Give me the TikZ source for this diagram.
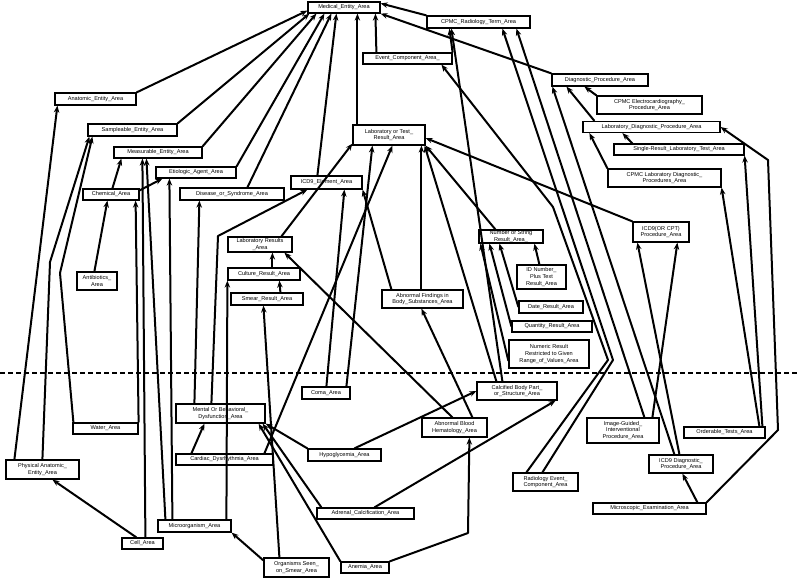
\documentclass[tikz,border=0pt]{standalone}
\usepackage{fontspec}
\setmainfont{Liberation Sans}
\usetikzlibrary{arrows.meta}

\begin{document}
\begin{tikzpicture}[x=1pt, y=-1pt,
  area/.style={draw, line width=1.2pt, inner sep=0pt, align=center,
    font=\fontsize{5.6}{6.6}\selectfont},
  isa/.style={-{Stealth[length=7pt,width=5.5pt]}, line width=2pt, line join=round}]
  \useasboundingbox (0,0) rectangle (797,579);

  % boxes: name/x/y/width/height/label
  \foreach \n/\x/\y/\w/\h/\t in {
    med/344/7.5/72/11/{Medical\_Entity\_Area},
    radterm/478.5/22/103/12/{CPMC\_Radiology\_Term\_Area},
    evcomp/407.5/58.5/89/11/{Event\_Component\_Area\_},
    diagproc/600/80/96/12/{Diagnostic\_Procedure\_Area},
    anat/95.5/99/81/12/{Anatomic\_Entity\_Area},
    ecg/649.5/105/105/18/{CPMC Electrocardiography\_\\Procedure\_Area},
    labdiag/651.5/127/137/11/{Laboratory\_Diagnostic\_Procedure\_Area},
    samp/132.5/130/89/12/{Sampleable\_Entity\_Area},
    labtest/389/135/72/20/{Laboratory or Test\_\\Result\_Area},
    single/679/149.5/130/11/{Single-Result\_Laboratory\_Test\_Area},
    meas/158/152.5/88/11/{Measurable\_Entity\_Area},
    etio/196/172.5/80/11/{Etiologic\_Agent\_Area},
    cpmclab/664.5/178/113/18/{CPMC Laboratory Diagnostic\_\\Procedures\_Area},
    icdel/326.5/182.5/71/13/{ICD9\_Element\_Area},
    chem/111/194.5/56/11/{Chemical\_Area},
    dis/232/194/104/12/{Disease\_or\_Syndrome\_Area},
    icdcpt/661/232/56/20/{ICD9(OR CPT)\\Procedure\_Area},
    numstr/511/236.5/64/13/{Number or String\\Result\_Area\_},
    labres/260/244.5/64/15/{Laboratory Results\\\_Area},
    idnum/541.5/277/49/24/{ID Number\_\\Plus Text\\Result\_Area},
    culture/264/274/72/12/{Culture\_Result\_Area},
    antib/97/281/40/18/{Antibiotics\_\\Area},
    abnfind/422.5/299/81/18/{Abnormal Findings in\\Body\_Substances\_Area},
    smear/267/299/72/12/{Smear\_Result\_Area},
    date/551/307/64/12/{Date\_Result\_Area},
    quant/552/326.5/80/11/{Quantity\_Result\_Area},
    numeric/549/354/80/28/{Numeric Result\\Restricted to Given\\Range\_of\_Values\_Area},
    calc/517/391/80/18/{Calcified Body Part\_\\or\_Structure\_Area},
    coma/326/393/48/12/{Coma\_Area},
    mental/220.5/413.5/89/19/{Mental Or Behavioral\_\\Dysfunction\_Area},
    abnblood/454.5/427.5/65/19/{Abnormal Blood\\Hematology\_Area},
    imgguid/623/430.5/72/25/{Image-Guided\_\\Interventional\\Procedure\_Area},
    water/105.5/428.5/65/11/{Water\_Area},
    orderable/724.5/432.5/81/11/{Orderable\_Tests\_Area},
    hypo/344.5/455/73/12/{Hypoglycemia\_Area},
    cardiac/224.5/459.5/97/11/{Cardiac\_Dysrhythmia\_Area},
    icddiag/681/464/64/18/{ICD9 Diagnostic\_\\Procedure\_Area},
    phys/42.5/469.5/73/19/{Physical Anatomic\_\\Entity\_Area},
    radevent/545.5/482/65/18/{Radiology Event\_\\Component\_Area},
    microexam/649.5/508.5/113/11/{Microscopic\_Examination\_Area},
    adrenal/365.5/513.5/97/11/{Adrenal\_Calcification\_Area},
    microorg/194.5/526/73/12/{Microorganism\_Area},
    cell/142.5/543.5/41/11/{Cell\_Area},
    organisms/296.5/567.5/65/19/{Organisms Seen\_\\on\_Smear\_Area},
    anemia/365/567.5/48/11/{Anemia\_Area}}
    \node[area, minimum width=\w pt, minimum height=\h pt] (\n) at (\x,\y) {\t};

  % dividing line
  \coordinate (cutL) at (0,373);
  \coordinate (cutR) at (797,373);
  \draw[line width=1.2pt, dash pattern=on 5pt off 3pt] (cutL) -- (cutR);

  % into Medical_Entity_Area
  \draw[isa] (anat.north east) -- ([yshift=3pt]med.south west);
  \draw[isa] (samp.north east) -- ([xshift=2pt]med.south west);
  \draw[isa] (meas.north east) -- ([xshift=9pt]med.south west);
  \draw[isa] (etio.north east) -- ([xshift=17pt]med.south west);
  \draw[isa] ([xshift=68pt]dis.north west) -- ([xshift=24pt]med.south west);
  \draw[isa] ([xshift=27pt]icdel.north west) -- ([xshift=29pt]med.south west);
  \draw[isa] ([xshift=5pt]labtest.north west) -- ([xshift=50pt]med.south west);
  \draw[isa] ([xshift=14pt]evcomp.north west) -- ([xshift=68pt]med.south west);
  \draw[isa] (radterm.north west) -- ([yshift=-2pt]med.north east);
  \draw[isa] (diagproc.north west) -- (med.south east);

  % radiology and procedures
  \draw[isa] (evcomp.north east) -- ([xshift=23pt]radterm.south west);
  \draw[isa] ([xshift=26pt]calc.north west) -- ([xshift=25pt]radterm.south west);
  \draw[isa] ([xshift=14pt]radevent.north west) -- (608,360) -- (553,207) -- ([xshift=79pt]evcomp.south west);
  \draw[isa] ([xshift=30pt]radevent.north west) -- (613,360) -- ([xshift=76pt]radterm.south west);
  \draw[isa] ([xshift=58pt]imgguid.north west) -- ([xshift=90pt]radterm.south west);
  \draw[isa] ([xshift=26pt]icddiag.north west) -- ([xshift=1pt]diagproc.south west);
  \draw[isa] ([xshift=12pt]labdiag.north west) -- ([xshift=15pt]diagproc.south west);
  \draw[isa] (ecg.north west) -- ([xshift=33pt]diagproc.south west);
  \draw[isa] ([xshift=19pt]single.north west) -- ([xshift=40pt]labdiag.south west);
  \draw[isa] (cpmclab.north west) -- ([xshift=7pt]labdiag.south west);
  \draw[isa] (microexam.north east) -- (778,430) -- (768,160) -- (labdiag.east);
  \draw[isa] ([xshift=105pt]microexam.north west) -- ([xshift=34pt]icddiag.south west);
  \draw[isa] ([xshift=79pt]orderable.north west) -- (single.south east);
  \draw[isa] ([xshift=76pt]orderable.north west) -- (cpmclab.south east);
  \draw[isa] ([xshift=66pt]imgguid.north west) -- ([xshift=45pt]icdcpt.south west);
  \draw[isa] ([xshift=31pt]icddiag.north west) -- ([xshift=5pt]icdcpt.south west);

  % into Laboratory or Test_Result_Area
  \draw[isa] (icdcpt.north west) -- ([yshift=-3pt]labtest.east);
  \draw[isa] ([xshift=17pt]numstr.north west) -- (labtest.south east);
  \draw[isa] ([xshift=20pt]calc.north west) -- ([xshift=-1pt]labtest.south east);
  \draw[isa] ([xshift=40pt]abnfind.north west) -- ([xshift=69pt]labtest.south west);
  \draw[isa] ([xshift=54pt]labres.north west) -- ([yshift=2pt]labtest.south west);
  \draw[isa] ([xshift=45pt]coma.north west) -- ([xshift=20pt]labtest.south west);
  \draw[isa] ([xshift=89pt]cardiac.north west) -- ([xshift=40pt]labtest.south west);

  % result kinds
  \draw[isa] ([xshift=23pt]idnum.north west) -- ([xshift=56pt]numstr.south west);
  \draw[isa] (date.west) -- ([xshift=21pt]numstr.south west);
  \draw[isa] (quant.west) -- ([xshift=11pt]numstr.south west);
  \draw[isa] ([yshift=-7pt]numeric.west) -- ([xshift=2pt]numstr.south west);

  % findings
  \draw[isa] ([xshift=51pt]abnblood.north west) -- ([xshift=40pt]abnfind.south west);
  \draw[isa] ([xshift=31pt]abnblood.north west) -- ([xshift=57pt]labres.south west);
  \draw[isa] (anemia.north east) -- (468,533) -- ([xshift=48pt]abnblood.south west);
  \draw[isa] ([xshift=47pt]hypo.north west) -- (calc.west);
  \draw[isa] ([xshift=58pt]adrenal.north west) -- ([xshift=-2pt]calc.south east);
  \draw[isa] (hypo.north west) -- (mental.south east);
  \draw[isa] ([xshift=5pt]adrenal.north west) -- ([xshift=-3pt]mental.south east);
  \draw[isa] (anemia.north west) -- ([xshift=-7pt]mental.south east);
  \draw[isa] ([xshift=16pt]cardiac.north west) -- ([xshift=29pt]mental.south west);
  \draw[isa] ([xshift=19pt]mental.north west) -- ([xshift=20pt]dis.south west);
  \draw[isa] ([xshift=36pt]mental.north west) -- (218,236) -- ([xshift=17pt]icdel.south west);
  \draw[isa] ([xshift=25pt]coma.north west) -- ([xshift=54pt]icdel.south west);
  \draw[isa] ([xshift=10pt]abnfind.north west) -- (icdel.south east);

  % results and organisms
  \draw[isa] ([xshift=45pt]culture.north west) -- ([xshift=45pt]labres.south west);
  \draw[isa] ([xshift=50pt]smear.north west) -- ([xshift=52pt]culture.south west);
  \draw[isa] ([xshift=69pt]microorg.north west) -- (culture.south west);
  \draw[isa] ([xshift=16pt]organisms.north west) -- ([xshift=33pt]smear.south west);
  \draw[isa] ([yshift=-3pt]organisms.north west) -- (microorg.south east);
  \draw[isa] ([xshift=8pt]microorg.north west) -- ([xshift=33pt]meas.south west);
  \draw[isa] ([xshift=15pt]microorg.north west) -- ([xshift=14pt]etio.south west);
  \draw[isa] ([xshift=24pt]cell.north west) -- ([xshift=29pt]meas.south west);
  \draw[isa] ([xshift=15pt]cell.north west) -- ([xshift=47pt]phys.south west);

  % anatomy and chemicals
  \draw[isa] ([xshift=9pt]phys.north west) -- ([xshift=3pt]anat.south west);
  \draw[isa] ([xshift=37pt]phys.north west) -- (50,262) -- ([xshift=2pt]samp.south west);
  \draw[isa] ([xshift=1pt]water.north west) -- (60,273) -- ([xshift=5pt]samp.south west);
  \draw[isa] (water.north east) -- ([xshift=-4pt]chem.south east);
  \draw[isa] ([xshift=30pt]chem.north west) -- ([xshift=8pt]meas.south west);
  \draw[isa] ([yshift=-2pt]chem.north east) -- ([xshift=7pt]etio.south west);
  \draw[isa] ([xshift=18pt]antib.north west) -- ([xshift=25pt]chem.south west);

\end{tikzpicture}
\end{document}
